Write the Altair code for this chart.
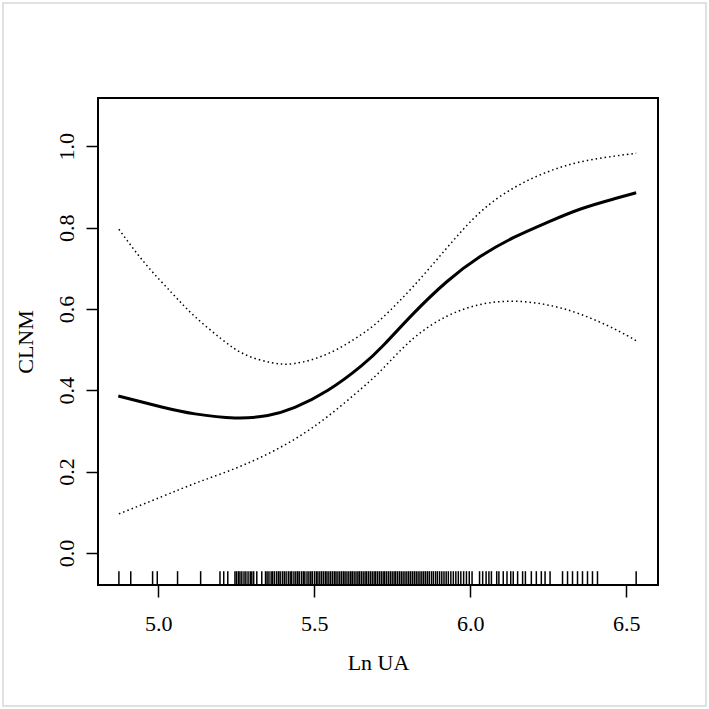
import altair as alt
import pandas as pd

# fitted curve (Ln UA vs CLNM)
fit_x = [4.872, 5.011, 5.118, 5.246, 5.351, 5.438, 5.544, 5.651, 5.726, 5.817,
         5.925, 6.032, 6.140, 6.247, 6.354, 6.462, 6.532]
fit_y = [0.386, 0.359, 0.342, 0.332, 0.338, 0.358, 0.400, 0.460, 0.514, 0.588,
         0.667, 0.729, 0.776, 0.813, 0.846, 0.871, 0.886]

# upper confidence limit
up_x = [4.874, 4.957, 5.043, 5.118, 5.203, 5.278, 5.363, 5.438, 5.544, 5.651,
        5.721, 5.817, 5.925, 6.032, 6.140, 6.247, 6.354, 6.462, 6.532]
up_y = [0.796, 0.713, 0.640, 0.581, 0.526, 0.488, 0.468, 0.466, 0.490, 0.537,
        0.580, 0.655, 0.750, 0.838, 0.898, 0.937, 0.962, 0.976, 0.983]

# lower confidence limit
lo_x = [4.874, 5.011, 5.118, 5.224, 5.331, 5.438, 5.544, 5.651, 5.721, 5.817,
        5.925, 6.032, 6.140, 6.247, 6.354, 6.462, 6.532]
lo_y = [0.096, 0.138, 0.171, 0.201, 0.236, 0.280, 0.336, 0.404, 0.454, 0.527,
        0.582, 0.611, 0.619, 0.610, 0.587, 0.551, 0.522]

# rug of observed Ln UA values
rug_x = [4.874, 4.912, 4.982, 4.997, 5.062, 5.136, 5.198, 5.210, 5.223,
         5.246, 5.251, 5.257, 5.262, 5.268, 5.275, 5.281, 5.288, 5.295, 5.300,
         5.306, 5.316, 5.332, 5.344, 5.349, 5.355, 5.362, 5.367, 5.373, 5.380,
         5.386, 5.391, 5.398, 5.404, 5.410, 5.417, 5.423, 5.428, 5.435, 5.441,
         5.447, 5.452, 5.459, 5.465, 5.470, 5.477, 5.483, 5.489, 5.494, 5.501,
         5.507, 5.512, 5.518, 5.524, 5.530, 5.536, 5.541, 5.547, 5.553, 5.559,
         5.565, 5.570, 5.576, 5.582, 5.588, 5.594, 5.599, 5.605, 5.611, 5.617,
         5.622, 5.628, 5.634, 5.640, 5.645, 5.651, 5.657, 5.663, 5.668, 5.674,
         5.680, 5.686, 5.692, 5.697, 5.703, 5.709, 5.715, 5.721, 5.726, 5.732,
         5.738, 5.744, 5.750, 5.756, 5.761, 5.767, 5.773, 5.779, 5.785, 5.791,
         5.797, 5.803, 5.809, 5.815, 5.821, 5.827, 5.833, 5.839, 5.845, 5.851,
         5.857, 5.863, 5.869, 5.876, 5.882, 5.889, 5.895, 5.902, 5.909, 5.916,
         5.923, 5.930, 5.938, 5.946, 5.954, 5.962, 5.970, 5.979, 5.988, 5.997,
         6.006, 6.030, 6.040, 6.051, 6.060, 6.068, 6.085, 6.092, 6.106, 6.118,
         6.130, 6.138, 6.152, 6.168, 6.177, 6.196, 6.212, 6.228, 6.240, 6.256,
         6.296, 6.312, 6.328, 6.344, 6.360, 6.376, 6.392, 6.408, 6.532]

x_ticks = [5.0, 5.5, 6.0, 6.5]
y_ticks = [0.0, 0.2, 0.4, 0.6, 0.8, 1.0]

X_DOMAIN = [4.807, 6.602]
Y_DOMAIN = [-0.079, 1.119]
RUG_TOP = -0.045
FONT = "Liberation Serif"
FS = 22

W, H = 560, 487

xscale = alt.Scale(domain=X_DOMAIN, nice=False, zero=False)
yscale = alt.Scale(domain=Y_DOMAIN, nice=False, zero=False)

xaxis = alt.Axis(values=x_ticks, format=".1f", title="Ln UA", grid=False,
                 domain=False, tickSize=12, tickWidth=1.5, tickColor="black",
                 labelFont=FONT, labelFontSize=FS, labelColor="black",
                 labelPadding=16, titleFont=FONT, titleFontSize=FS,
                 titleFontWeight="normal", titleColor="black", titlePadding=18)
yaxis = alt.Axis(values=y_ticks, format=".1f", title="CLNM", grid=False,
                 domain=False, tickSize=12, tickWidth=1.5, tickColor="black",
                 labelFont=FONT, labelFontSize=FS, labelColor="black",
                 labelAngle=270, labelAlign="center", labelBaseline="bottom",
                 labelPadding=8, titleFont=FONT, titleFontSize=FS,
                 titleFontWeight="normal", titleColor="black", titlePadding=18)

fit_df = pd.DataFrame({"x": fit_x, "y": fit_y})
up_df = pd.DataFrame({"x": up_x, "y": up_y})
lo_df = pd.DataFrame({"x": lo_x, "y": lo_y})
rug_df = pd.DataFrame({"x": rug_x})

fit = alt.Chart(fit_df).mark_line(color="black", strokeWidth=3,
                                   interpolate="natural").encode(
    x=alt.X("x:Q", scale=xscale, axis=xaxis),
    y=alt.Y("y:Q", scale=yscale, axis=yaxis),
)

up = alt.Chart(up_df).mark_line(color="black", strokeWidth=1.5,
                                 strokeDash=[1.5, 3], interpolate="natural").encode(
    x=alt.X("x:Q", scale=xscale),
    y=alt.Y("y:Q", scale=yscale),
)

lo = alt.Chart(lo_df).mark_line(color="black", strokeWidth=1.5,
                                 strokeDash=[1.5, 3], interpolate="natural").encode(
    x=alt.X("x:Q", scale=xscale),
    y=alt.Y("y:Q", scale=yscale),
)

rug = alt.Chart(rug_df).mark_rule(color="black", strokeWidth=1.5).encode(
    x=alt.X("x:Q", scale=xscale),
    y=alt.datum(Y_DOMAIN[0]),
    y2=alt.datum(RUG_TOP),
)

frame = alt.Chart(pd.DataFrame({"a": [0]})).mark_rect(
    fill=None, stroke="#d8d8d8", strokeWidth=1.5, clip=False).encode(
    x=alt.value(-95), x2=alt.value(W + 48), y=alt.value(-95), y2=alt.value(H + 121)
)

chart = alt.layer(frame, rug, lo, up, fit).properties(
    width=W, height=H,
    autosize=alt.AutoSizeParams(type="none"),
    padding={"left": 98, "top": 98, "right": 51, "bottom": 124},
    background="white",
).configure_view(stroke="black", strokeWidth=2)

chart.save("out.html", embed_options={"renderer": "svg", "actions": False})
